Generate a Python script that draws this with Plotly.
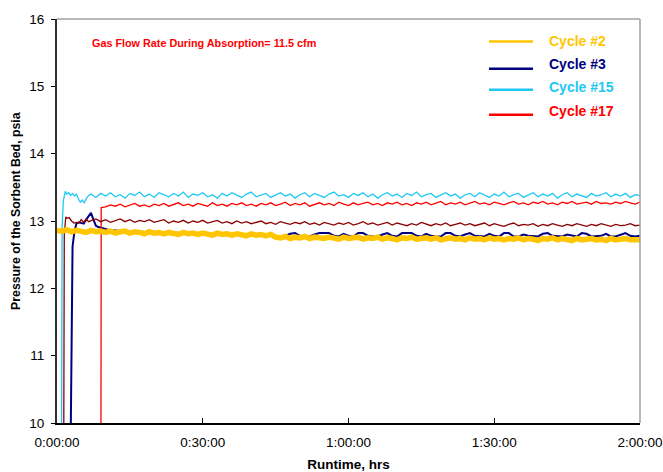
import plotly.graph_objects as go

# ---- axis labels -------------------------------------------------------
x_tick_minutes = [0, 30, 60, 90, 120]
x_tick_labels = ["0:00:00", "0:30:00", "1:00:00", "1:30:00", "2:00:00"]
y_ticks = [10, 11, 12, 13, 14, 15, 16]

# ---- Cycle #2 (sampled every minute from 0 to 120 min) ----------------
c2_t = list(range(0, 121))
c2_p = [
    12.86, 12.85, 12.87, 12.84, 12.86, 12.85, 12.83, 12.86, 12.84, 12.85,
    12.83, 12.85, 12.82, 12.84, 12.85, 12.82, 12.84, 12.83, 12.81, 12.84,
    12.82, 12.83, 12.81, 12.83, 12.82, 12.80, 12.83, 12.81, 12.82, 12.80,
    12.82, 12.81, 12.79, 12.82, 12.80, 12.81, 12.79, 12.81, 12.80, 12.78,
    12.81, 12.79, 12.80, 12.78, 12.80,
    12.76, 12.75, 12.77, 12.74, 12.76, 12.75, 12.77, 12.74, 12.76, 12.75,
    12.74, 12.76, 12.75, 12.73, 12.76, 12.74, 12.75, 12.76, 12.73, 12.75,
    12.74, 12.76, 12.73, 12.75, 12.74, 12.72, 12.75, 12.74, 12.76, 12.73,
    12.74, 12.75, 12.73, 12.75, 12.72, 12.74, 12.75, 12.73, 12.74, 12.72,
    12.75, 12.73, 12.74, 12.72, 12.75, 12.73, 12.74, 12.72, 12.74, 12.73,
    12.75, 12.72, 12.74, 12.73, 12.71, 12.74, 12.73, 12.75, 12.72, 12.74,
    12.73, 12.71, 12.74, 12.72, 12.73, 12.74, 12.72, 12.73, 12.71, 12.74,
    12.72, 12.73, 12.74, 12.72, 12.73, 12.72,
]

# ---- Cycle #3 -------------------------------------------------------------
c3_t = [2.85, 3.2, 3.6, 4.0, 4.5, 5.0, 5.5, 6.0, 6.5, 7.0, 7.5, 8.0, 8.5, 9.0, 9.5] + list(range(10, 121))
c3_p = [
    10.0, 12.62, 12.85, 12.96, 12.98, 12.97, 12.96, 13.02, 13.08, 13.12,
    13.02, 12.93, 12.91, 12.90, 12.88,
    12.87, 12.86, 12.86, 12.85, 12.85, 12.84, 12.85, 12.84, 12.84, 12.83,
    12.84, 12.83, 12.83, 12.82, 12.83, 12.82, 12.82, 12.81, 12.82, 12.81,
    12.81, 12.80, 12.81, 12.80, 12.80, 12.79, 12.80, 12.79, 12.79, 12.78,
    12.79, 12.78, 12.78, 12.78, 12.79,
    12.78, 12.77, 12.78, 12.81, 12.82, 12.78, 12.77, 12.77, 12.80, 12.82,
    12.82, 12.82, 12.78, 12.77, 12.81, 12.78, 12.77, 12.82, 12.82, 12.78,
    12.77, 12.77, 12.80, 12.82, 12.78, 12.77, 12.82, 12.82, 12.82, 12.78,
    12.77, 12.81, 12.78, 12.77, 12.77, 12.82, 12.82, 12.78, 12.77, 12.80,
    12.82, 12.78, 12.77, 12.77, 12.81, 12.78, 12.77, 12.82, 12.82, 12.77,
    12.77, 12.80, 12.78, 12.77, 12.77, 12.81, 12.82, 12.78, 12.77, 12.77,
    12.80, 12.78, 12.77, 12.82, 12.81, 12.77, 12.77, 12.78, 12.81, 12.77,
    12.77, 12.80, 12.82, 12.78, 12.77, 12.78,
]

# ---- Cycle #15 ------------------------------------------------------------
c15_t = [0.95, 1.05, 1.3, 1.7, 2.0, 2.4, 2.8, 3.2, 3.6, 4.0, 4.4, 4.8, 5.2, 5.6, 6.0, 6.5] + list(range(7, 121))
c15_p = [
    10.0, 12.9, 13.30, 13.44, 13.40, 13.42, 13.38, 13.41, 13.37, 13.40,
    13.33, 13.28, 13.31, 13.27, 13.33, 13.38,
    13.40, 13.35, 13.41, 13.37, 13.42, 13.36, 13.39, 13.34, 13.41, 13.38,
    13.43, 13.36, 13.40, 13.35, 13.42, 13.39, 13.36, 13.41, 13.37, 13.43,
    13.35, 13.40, 13.38, 13.42, 13.36, 13.39, 13.34, 13.41, 13.37, 13.42,
    13.38, 13.35, 13.40, 13.43, 13.36, 13.39, 13.41, 13.35, 13.38, 13.42,
    13.37, 13.40, 13.34, 13.39, 13.42, 13.36, 13.41, 13.38, 13.35, 13.40,
    13.43, 13.37, 13.39, 13.35, 13.41, 13.38, 13.42, 13.36, 13.40, 13.34,
    13.39, 13.42, 13.37, 13.40, 13.35, 13.41, 13.38, 13.43, 13.36, 13.39,
    13.41, 13.35, 13.38, 13.42, 13.37, 13.40, 13.34, 13.39, 13.41, 13.36,
    13.42, 13.38, 13.35, 13.40, 13.37, 13.43, 13.36, 13.39, 13.41, 13.35,
    13.38, 13.42, 13.36, 13.40, 13.37, 13.41, 13.34, 13.39, 13.42, 13.36,
    13.40, 13.38, 13.35, 13.41, 13.37, 13.39, 13.42, 13.36, 13.40, 13.37,
    13.41, 13.35, 13.39, 13.38,
]

# ---- Cycle #17 ------------------------------------------------------------
c17_t = [9.05, 9.1] + list(range(10, 121))
c17_p = [
    10.0, 13.20,
    13.21, 13.24, 13.22, 13.25, 13.21, 13.23, 13.26, 13.22, 13.24, 13.21,
    13.25, 13.23, 13.26, 13.22, 13.24, 13.27, 13.23, 13.25, 13.22, 13.26,
    13.24, 13.22, 13.27, 13.23, 13.25, 13.22, 13.26, 13.24, 13.27, 13.23,
    13.25, 13.22, 13.26, 13.24, 13.27, 13.23, 13.25, 13.28, 13.23, 13.26,
    13.24, 13.27, 13.22, 13.25, 13.27, 13.24, 13.26, 13.23, 13.28, 13.25,
    13.23, 13.27, 13.24, 13.26, 13.28, 13.24, 13.26, 13.23, 13.27, 13.25,
    13.28, 13.24, 13.26, 13.23, 13.27, 13.25, 13.28, 13.24, 13.26, 13.29,
    13.24, 13.27, 13.25, 13.28, 13.24, 13.26, 13.29, 13.25, 13.27, 13.24,
    13.28, 13.26, 13.24, 13.27, 13.29, 13.25, 13.27, 13.24, 13.28, 13.26,
    13.29, 13.25, 13.27, 13.24, 13.28, 13.26, 13.29, 13.25, 13.27, 13.28,
    13.25, 13.29, 13.26, 13.27, 13.25, 13.28, 13.26, 13.29, 13.27, 13.25,
    13.28,
]

# ---- additional run shown without a legend entry -------------------------
extra_t = [1.4, 1.5, 1.8, 2.1, 2.5, 3.0, 3.5, 4.0, 4.5, 5.0, 5.5, 6.0, 6.5] + list(range(7, 121))
extra_p = [
    10.0, 12.8, 13.06, 13.04, 13.05, 13.00, 12.97, 12.98, 12.97, 13.02,
    12.98, 13.03, 12.99,
    13.00, 13.03, 12.99, 13.02, 12.98, 13.01, 13.03, 12.99, 13.02, 12.98,
    13.01, 12.99, 13.02, 12.98, 13.00, 13.02, 12.97, 13.00, 12.98, 13.01,
    12.97, 13.00, 12.98, 13.01, 12.97, 12.99, 13.01, 12.97, 12.99, 12.96,
    13.00, 12.97, 12.99, 12.96, 12.98, 13.00, 12.96, 12.98, 12.95, 12.99,
    12.97, 12.95, 12.98, 12.96, 12.99, 12.95, 12.97, 12.94, 12.98, 12.96,
    12.94, 12.97, 12.95, 12.98, 12.94, 12.96, 12.99, 12.95, 12.97, 12.94,
    12.96, 12.98, 12.94, 12.97, 12.95, 12.93, 12.96, 12.94, 12.98, 12.95,
    12.93, 12.96, 12.94, 12.97, 12.93, 12.95, 12.97, 12.94, 12.96, 12.93,
    12.95, 12.97, 12.93, 12.96, 12.94, 12.92, 12.95, 12.97, 12.93, 12.95,
    12.94, 12.96, 12.92, 12.95, 12.93, 12.96, 12.94, 12.92, 12.95, 12.93,
    12.96, 12.94, 12.92, 12.95, 12.93, 12.96, 12.94, 12.92, 12.95, 12.93,
    12.94, 12.96, 12.93, 12.94,
]

# ---- styling ----------------------------------------------------------------
FONT = "Liberation Sans, Arial, sans-serif"
GOLD, NAVY, CYAN, RED, MAROON = "#FFC600", "#000080", "#1EC8F5", "#FF0000", "#8B0000"

series = [
    ("Cycle #3", c3_t, c3_p, NAVY, 2.0),
    ("Cycle #15", c15_t, c15_p, CYAN, 1.3),
    ("Cycle #17", c17_t, c17_p, RED, 1.3),
    ("Run", extra_t, extra_p, MAROON, 1.3),
    ("Cycle #2", c2_t, c2_p, GOLD, 5.5),
]

fig = go.Figure()
for name, t, p, color, width in series:
    fig.add_trace(go.Scatter(
        x=t, y=p, mode="lines", name=name,
        line=dict(color=color, width=width),
        showlegend=False, hoverinfo="x+y+name",
    ))

# legend drawn as short line samples with coloured labels
legend_rows = [
    ("Cycle #2", GOLD, 0.944, 0.946),
    ("Cycle #3", NAVY, 0.877, 0.889),
    ("Cycle #15", CYAN, 0.825, 0.832),
    ("Cycle #17", RED, 0.763, 0.772),
]
shapes = []
annotations = []
for label, color, ly, ty in legend_rows:
    shapes.append(dict(type="line", xref="paper", yref="paper",
                       x0=0.741, x1=0.8165, y0=ly, y1=ly,
                       line=dict(color=color, width=2.5)))
    annotations.append(dict(text=f"<b>{label}</b>", xref="paper", yref="paper",
                            x=0.8405, y=ty, xanchor="left", yanchor="middle",
                            showarrow=False, font=dict(family=FONT, size=14, color=color)))

annotations.append(dict(text="<b>Gas Flow Rate During Absorption= 11.5 cfm</b>",
                        xref="paper", yref="paper", x=0.0566, y=0.9405,
                        xanchor="left", yanchor="middle", showarrow=False,
                        font=dict(family=FONT, size=10.8, color=RED)))

# vertical axis title, sitting slightly above the centre of the axis
annotations.append(dict(text="<b>Pressure of the Sorbent Bed, psia</b>",
                        xref="paper", yref="paper", x=-0.0703, y=0.525,
                        xanchor="center", yanchor="middle", textangle=-90,
                        showarrow=False, font=dict(family=FONT, size=12.3, color="black")))

# grey frame on the top and right sides of the plot area
shapes.append(dict(type="line", xref="paper", yref="paper", x0=0, x1=1, y0=1, y1=1,
                   line=dict(color="#A0A0A0", width=1.5)))
shapes.append(dict(type="line", xref="paper", yref="paper", x0=1, x1=1, y0=0, y1=1,
                   line=dict(color="#A0A0A0", width=1.5)))

fig.update_layout(
    width=663, height=472,
    margin=dict(l=57, r=23, t=19, b=49),
    paper_bgcolor="white", plot_bgcolor="white",
    font=dict(family=FONT, size=13.5, color="black"),
    showlegend=False,
    shapes=shapes, annotations=annotations,
    xaxis=dict(
        range=[0, 120], tickvals=x_tick_minutes, ticktext=x_tick_labels,
        ticks="inside", ticklen=5, tickcolor="black",
        showline=True, linecolor="black", linewidth=2,
        showgrid=False, zeroline=False, ticklabelstandoff=6,
        automargin=False,
        title=dict(text="<b>Runtime, hrs</b>", font=dict(size=13.5), standoff=12),
    ),
    yaxis=dict(
        range=[10, 16], tickvals=y_ticks,
        ticks="outside", ticklen=4, tickcolor="black",
        showline=True, linecolor="#303030", linewidth=2,
        showgrid=False, zeroline=False, ticklabelstandoff=4,
        automargin=False,
    ),
)

fig.write_html("out.html")
